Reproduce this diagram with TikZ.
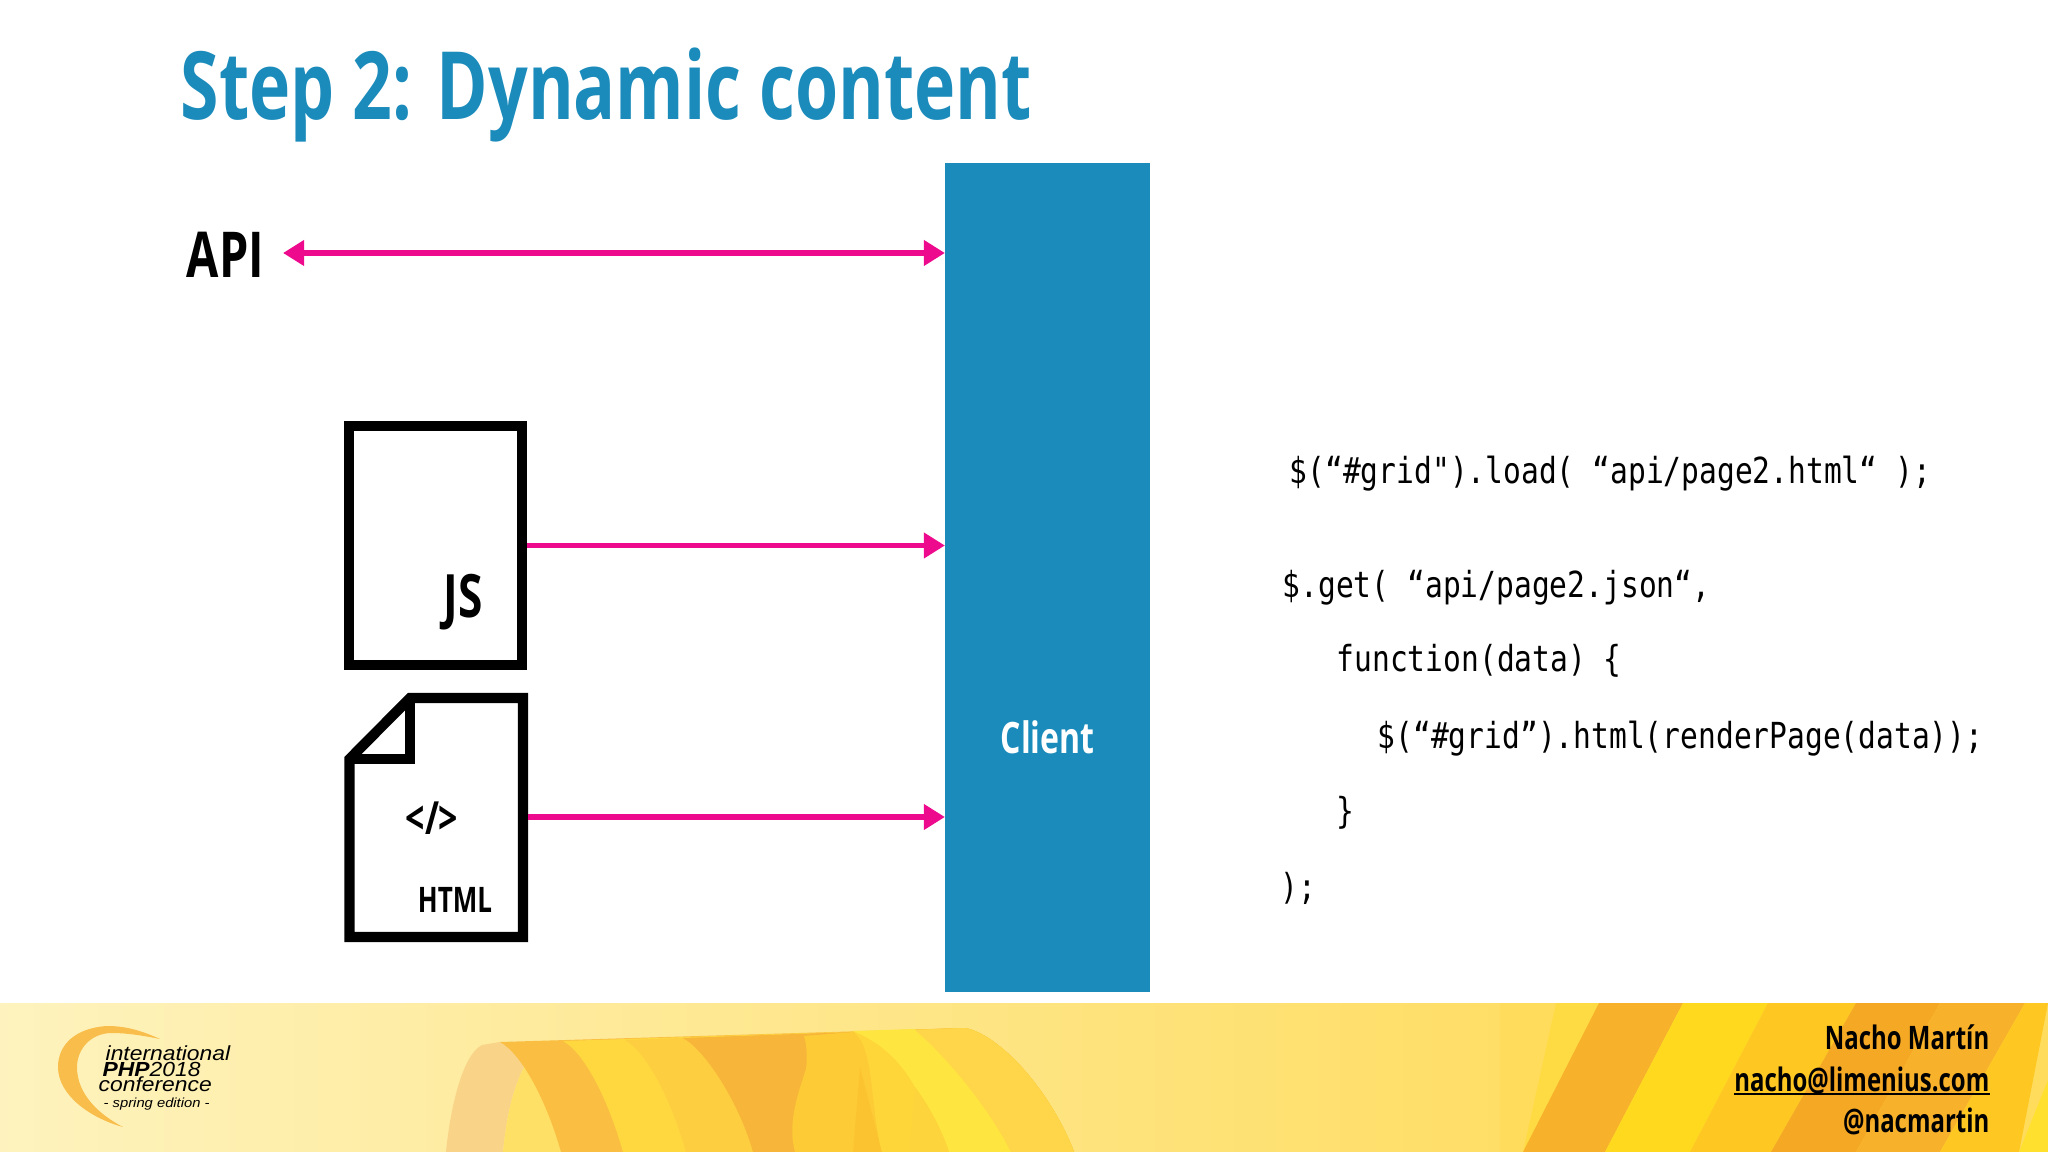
\documentclass[tikz,border=0pt]{standalone}
\usepackage{fontspec}
\usetikzlibrary{arrows.meta}
\setmainfont{Open Sans}
\newfontfamily\condfont[FakeStretch=0.74]{Open Sans}
\newfontfamily\codefont[FakeStretch=0.825]{DejaVu Sans Mono}
\newfontfamily\logofont[FakeStretch=1.12]{Liberation Sans}
\definecolor{clientblue}{HTML}{1B8BBB}
\definecolor{arrowpink}{HTML}{EE0A8C}
\definecolor{palebar}{HTML}{FEF3BE}
\definecolor{midbar}{HTML}{FEE68A}
\definecolor{warmbar}{HTML}{FFDC5C}
\definecolor{bandorange}{HTML}{F7B12A}
\definecolor{banddeep}{HTML}{F5A823}
\definecolor{bandyellow}{HTML}{FFD91E}
\definecolor{bandgold}{HTML}{FFC722}
\definecolor{bandlight}{HTML}{FFE02E}
\definecolor{loopback}{HTML}{F9D488}
\definecolor{loopa}{HTML}{FABE42}
\definecolor{loopb}{HTML}{FFD840}
\definecolor{loopc}{HTML}{FDCE40}
\definecolor{loopd}{HTML}{F7B53A}
\definecolor{loope}{HTML}{FCCB36}
\definecolor{loopf}{HTML}{FFD63A}
\definecolor{loopg}{HTML}{FFE540}
\definecolor{looph}{HTML}{FFD64A}
\tikzset{
    pinkarrow/.style = {draw = arrowpink, line width = 1.6pt, -{Triangle[length = 6pt, width = 7pt]}},
    filebox/.style = {draw = black, line width = 2.9pt},
    codeline/.style = {anchor = base west, inner sep = 0pt, font = \codefont\fontsize{10.2}{12}\selectfont},
    contact/.style = {anchor = base east, inner sep = 0pt, font = \condfont\bfseries\fontsize{9.2}{11}\selectfont},
    logotext/.style = {anchor = base west, inner sep = 0pt, font = \logofont\itshape\fontsize{5.8}{7}\selectfont}
}
\begin{document}
\begin{tikzpicture}[x = 0.01cm, y = -0.01cm]
    \useasboundingbox (0,0) rectangle (2048,1152);
    % footer
    \shade[left color = palebar, right color = warmbar, middle color = midbar] (0,1003) rectangle (1700,1152);
    \fill[warmbar] (1500,1003) rectangle (2048,1152);
    \fill[bandyellow!40!warmbar] (1556,1003) -- (1599,1003) -- (1523,1152) -- cycle;
    \foreach \xa/\xb/\xc/\xd/\col in {1599/1683/1605/1523/bandorange, 1683/1768/1690/1605/bandyellow, 1768/1856/1771/1690/bandgold, 1856/1940/1856/1771/banddeep, 1940/2025/1940/1856/bandorange, 2025/2048/2019/1940/bandgold}{
        \fill[\col] (\xa,1003) -- (\xb,1003) -- (\xc,1152) -- (\xd,1152) -- cycle;
    }
    \fill[bandlight] (2048,1080) -- (2048,1152) -- (2019,1152) -- cycle;
    % ribbon
    \fill[loopback] (446,1152) .. controls (450,1110) and (462,1055) .. (482,1045) -- (500,1042) .. controls (512,1048) and (520,1055) .. (525,1065) .. controls (512,1090) and (506,1120) .. (503,1152) -- cycle;
    \fill[loopb!80!white] (525,1065) .. controls (512,1090) and (506,1120) .. (503,1152) -- (561,1152) .. controls (550,1110) and (538,1085) .. cycle;
    \foreach \xa/\ya/\xb/\col in {500/1042/561/loopa, 563/1041/623/loopb, 625/1040/686/loopc, 683/1038/753/loopd, 804/1036/795/loope}{
        \fill[\col] (\xa,\ya) .. controls +(22,12) and +(-14,-50) .. (\xb,1152) -- (1074,1152) .. controls (1050,1090) and (1000,1035) .. (965,1028) -- cycle;
    }
    \fill[loope] (804,1036) .. controls (812,1060) and (800,1110) .. (795,1152) -- (882,1152) -- (882,1080) -- (853,1032) -- cycle;
    \fill[loope!90!orange] (860,1067) -- (853,1152) -- (882,1152) -- cycle;
    \fill[loopf] (853,1032) .. controls (875,1045) and (870,1110) .. (882,1152) -- (1074,1152) .. controls (1050,1090) and (1000,1035) .. (965,1028) -- cycle;
    \fill[loopg] (853,1031) -- (915,1029) .. controls (950,1060) and (990,1110) .. (1011,1152) -- (949,1152) .. controls (940,1125) and (928,1105) .. (915,1087) .. controls (900,1060) and (880,1042) .. cycle;
    \fill[loopf!70!loopc] (915,1087) -- (909,1152) -- (949,1152) .. controls (940,1125) and (928,1105) .. cycle;
    \fill[looph] (915,1030) -- (965,1028) .. controls (1000,1035) and (1050,1090) .. (1074,1152) -- (1011,1152) .. controls (990,1110) and (950,1060) .. cycle;
    % logo
    \fill[bandorange!85!white] (160,1039) .. controls (140,1030) and (125,1026) .. (107,1026) .. controls (75,1028) and (58,1045) .. (58,1067) .. controls (58,1095) and (90,1118) .. (123,1127) .. controls (100,1115) and (77,1095) .. (77,1067) .. controls (77,1050) and (90,1033) .. (112,1033) .. controls (128,1033) and (145,1036) .. cycle;
    \node[logotext] (loga) at (105,1060) {international};
    \node[logotext] (logb) at (102,1076) {\textbf{PHP}2018};
    \node[logotext] (logc) at (98,1091) {conference};
    \node[logotext, font = \logofont\itshape\fontsize{3.75}{5}\selectfont] (logd) at (103,1107) {- spring edition -};
    % title
    \node[anchor = base west, inner sep = 0pt, text = clientblue, font = \condfont\bfseries\fontsize{26.8}{31}\selectfont] (title) at (180,120) {Step 2: Dynamic content};
    % client
    \node[fill = clientblue, minimum width = 2.05cm, minimum height = 8.29cm, inner sep = 0pt, outer sep = 0pt] (client) at (1047.5,577.5) {};
    \node[text = white, inner sep = 0pt, font = \condfont\bfseries\fontsize{12.3}{14}\selectfont] (clientlabel) at (1047.5,737) {Client};
    % api
    \node[anchor = base west, inner sep = 0pt, font = \condfont\bfseries\fontsize{18}{20}\selectfont] (api) at (186,278) {API};
    \coordinate (apiend) at (283,253);
    \draw[pinkarrow, {Triangle[length = 6pt, width = 7pt]}-{Triangle[length = 6pt, width = 7pt]}] (apiend) -- (apiend -| client.west);
    % files
    \node[filebox, minimum width = 1.73cm, minimum height = 2.39cm, inner sep = 0pt] (jsfile) at (435.5,545.5) {};
    \node[inner sep = 0pt, font = \condfont\bfseries\fontsize{17}{20}\selectfont] (jslabel) at (463,602) {JS};
    \node[minimum width = 1.83cm, minimum height = 2.49cm, inner sep = 0pt] (htmlfile) at (436,817) {};
    \draw[filebox] (410,698) -- (523,698) -- (523,937) -- (349.5,937) -- (349.5,759) -- cycle;
    \draw[filebox] (410,698) -- (410,759) -- (349.5,759);
    \node[inner sep = 0pt, font = \condfont\bfseries\fontsize{13}{15}\selectfont] (tag) at (432,818) {</>};
    \node[inner sep = 0pt, font = \condfont\bfseries\fontsize{10}{12}\selectfont] (htmllabel) at (455,900) {HTML};
    \draw[pinkarrow] (jsfile.east) -- (jsfile.east -| client.west);
    \draw[pinkarrow] (htmlfile.east) -- (htmlfile.east -| client.west);
    % code
    \node[codeline] (lineone) at (1289,484) {\$(“\#grid").load( “api/page2.html“ );};
    \node[codeline] (linetwo) at (1282,597) {\$.get( “api/page2.json“,};
    \node[codeline] (linethree) at (1336,672) {function(data) \{};
    \node[codeline] (linefour) at (1377,748) {\$(“\#grid”).html(renderPage(data));};
    \node[codeline] (linefive) at (1336,823) {\}};
    \node[codeline] (linesix) at (1280,899) {);};
    % contact
    \node[contact] (name) at (1990,1049) {Nacho Martín};
    \node[contact] (mail) at (1990,1091) {nacho@limenius.com};
    \draw[line width = 0.8pt] ([yshift = -0.03cm]mail.base west) -- ([yshift = -0.03cm]mail.base east);
    \node[contact] (handle) at (1990,1132) {@nacmartin};
\end{tikzpicture}
\end{document}
